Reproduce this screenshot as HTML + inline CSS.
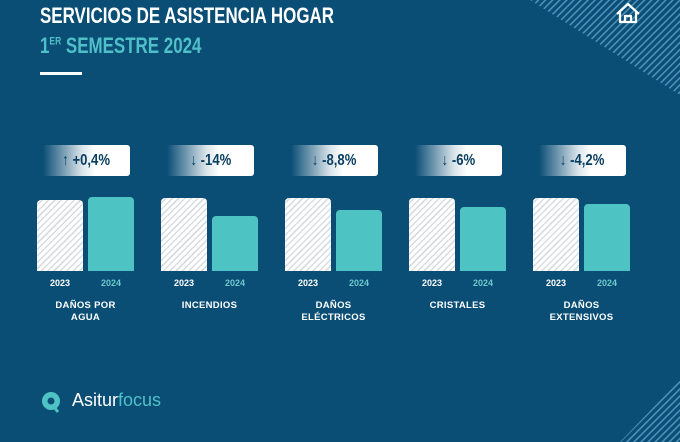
<!DOCTYPE html>
<html><head><meta charset="utf-8"><style>
body{margin:0;width:680px;height:442px;overflow:hidden;background:#0a4e76;font-family:"Liberation Sans",sans-serif;position:relative}
.t{position:absolute;left:40px;font-family:"Liberation Sans",sans-serif;font-weight:bold;transform:scaleX(0.77);transform-origin:0 0;white-space:nowrap}
.g{position:absolute;top:0;width:110px}
.badge{position:absolute;left:6px;top:145px;width:87px;height:31px;border-radius:3px;background:linear-gradient(90deg,rgba(255,255,255,0) 0%,rgba(255,255,255,0.85) 45%,#fff 60%);color:#0b3f62;font-weight:bold;font-size:16px;line-height:31px;text-align:center}
.badge span{display:inline-block;transform:scaleX(0.82)}
.b1{position:absolute;left:0;width:46px;border-radius:4px 4px 0 0;background:#fff repeating-linear-gradient(135deg,#fff 0 3px,#d8dde2 3px 4.5px)}
.b2{position:absolute;left:51px;width:46px;border-radius:4px 4px 0 0;background:#4ec3c4}
.y{position:absolute;top:278px;font-size:9px;font-weight:bold;width:46px;text-align:center}
.c{position:absolute;top:300px;left:0;width:97px;text-align:center;color:#fff;font-size:9.5px;font-weight:bold;line-height:12px;letter-spacing:0.3px}
</style></head><body>
<svg width="680" height="442" style="position:absolute;left:0;top:0">
<defs><pattern id="p" width="5" height="5" patternUnits="userSpaceOnUse" patternTransform="rotate(45)"><rect width="1.6" height="5" fill="#4f8fb8"/></pattern></defs>
<polygon points="530,0 680,0 680,95" fill="url(#p)"/>
<polygon points="620,442 680,442 680,380" fill="url(#p)"/>
<g fill="none" stroke="#fff" stroke-width="2.2" stroke-linejoin="round"><path d="M617 14 L628 4 L639 14 M620 12 V22 H636 V12 M625 22 V16 H631 V22"/></g>
<circle cx="51" cy="401" r="9" fill="#4ec3c4"/><circle cx="51" cy="401" r="3.5" fill="#0a4e76"/><path d="M54 407 L58 412" stroke="#4ec3c4" stroke-width="3"/>
</svg>
<div class="t" style="top:3px;font-size:22px;color:#fff">SERVICIOS DE ASISTENCIA HOGAR</div>
<div class="t" style="top:33px;font-size:22px;color:#4fc0c8">1<sup style="font-size:11px">ER</sup> SEMESTRE 2024</div>
<div style="position:absolute;left:40px;top:72px;width:42px;height:3px;background:#fff"></div>
<div style="position:absolute;left:72px;top:390px;font-size:18px;color:#fff">Asitur<span style="color:#4fc0c8">focus</span></div>

<div class="g" style="left:37px"><div class="badge"><span>↑ +0,4%</span></div><div class="b1" style="top:200px;height:71px"></div><div class="b2" style="top:197px;height:74px"></div><div class="y" style="left:0;color:#fff">2023</div><div class="y" style="left:51px;color:#6fc9cc">2024</div><div class="c">DAÑOS POR<br>AGUA</div></div>
<div class="g" style="left:161px"><div class="badge"><span>↓ -14%</span></div><div class="b1" style="top:198px;height:73px"></div><div class="b2" style="top:216px;height:55px"></div><div class="y" style="left:0;color:#fff">2023</div><div class="y" style="left:51px;color:#6fc9cc">2024</div><div class="c">INCENDIOS</div></div>
<div class="g" style="left:285px"><div class="badge"><span>↓ -8,8%</span></div><div class="b1" style="top:198px;height:73px"></div><div class="b2" style="top:210px;height:61px"></div><div class="y" style="left:0;color:#fff">2023</div><div class="y" style="left:51px;color:#6fc9cc">2024</div><div class="c">DAÑOS<br>ELÉCTRICOS</div></div>
<div class="g" style="left:409px"><div class="badge"><span>↓ -6%</span></div><div class="b1" style="top:198px;height:73px"></div><div class="b2" style="top:207px;height:64px"></div><div class="y" style="left:0;color:#fff">2023</div><div class="y" style="left:51px;color:#6fc9cc">2024</div><div class="c">CRISTALES</div></div>
<div class="g" style="left:533px"><div class="badge"><span>↓ -4,2%</span></div><div class="b1" style="top:198px;height:73px"></div><div class="b2" style="top:204px;height:67px"></div><div class="y" style="left:0;color:#fff">2023</div><div class="y" style="left:51px;color:#6fc9cc">2024</div><div class="c">DAÑOS<br>EXTENSIVOS</div></div>
</body></html>
